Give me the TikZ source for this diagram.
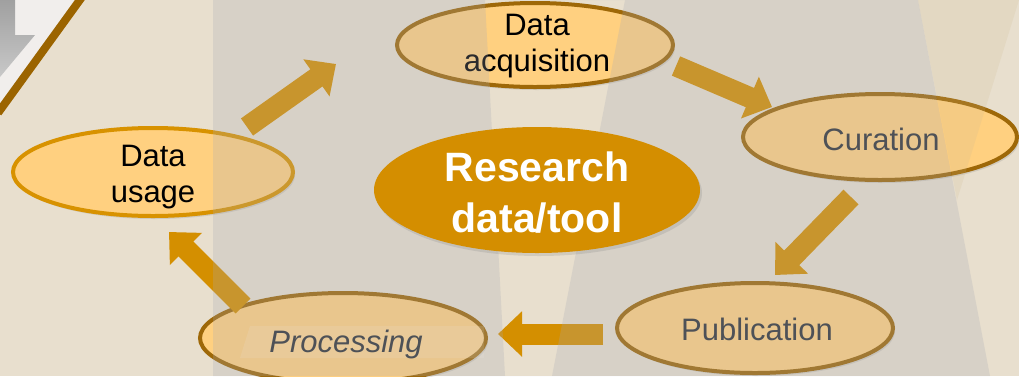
\documentclass[tikz,border=0pt]{standalone}
\usepackage{fontspec}
\setmainfont{Liberation Sans}
\usetikzlibrary{shapes.geometric,arrows.meta,shadows}
\definecolor{bgbeige}{RGB}{232,223,206}
\definecolor{paleleft}{RGB}{241,238,236}
\definecolor{brownline}{RGB}{155,100,0}
\definecolor{stagefill}{RGB}{255,208,128}
\definecolor{stagebrown}{RGB}{158,104,8}
\definecolor{stageorange}{RGB}{216,146,0}
\definecolor{arroworange}{RGB}{212,143,0}
\definecolor{centerorange}{RGB}{212,142,0}
\definecolor{overlaygrey}{RGB}{168,170,180}
\definecolor{tanbeam}{RGB}{205,185,145}
\definecolor{textgrey}{RGB}{48,52,56}
\definecolor{arrowgreyA}{RGB}{160,160,160}
\definecolor{arrowgreyB}{RGB}{200,200,200}
\begin{document}
\begin{tikzpicture}[x=1pt,y=-1pt,
  stage/.style={ellipse, draw=stagebrown, line width=4pt, fill=stagefill, inner sep=0pt,
    drop shadow={opacity=0.22, shadow xshift=2pt, shadow yshift=-3pt}},
  stagetext/.style={inner sep=0pt, align=center, font=\fontsize{31}{36}\selectfont},
  blockarrow/.style={line width=21pt, draw=arroworange, -{Triangle[length=24pt,width=44pt]}},
]
\useasboundingbox (0,0) rectangle (1019,376);
\clip (0,0) rectangle (1019,376);
% background
\fill[bgbeige] (0,0) rectangle (1019,376);
% top-left decoration
\fill[paleleft] (0,0) -- (76,0) -- (0,106) -- cycle;
\shade[top color=arrowgreyA, bottom color=arrowgreyB] (0,0) -- (15,0) -- (15,35) -- (35,35) -- (0,77) -- cycle;
\draw[brownline, line width=8pt] (82,-3) -- (-2,113);
% stages
\node[stage, draw=stagebrown, minimum width=276pt, minimum height=84pt] (acq) at (535,45) {};
\node[stage, minimum width=274pt, minimum height=86pt] (cur) at (880,137) {};
\node[stage, minimum width=276pt, minimum height=90pt] (pub) at (755,328) {};
\node[stage, minimum width=286pt, minimum height=90pt] (proc) at (343,338) {};
\node[stage, draw=stageorange, minimum width=280pt, minimum height=88pt] (use) at (153,172) {};
% light band in Processing
\fill[white, opacity=0.14] (250,326) -- (484,326) -- (484,358) -- (240,358) -- cycle;
% texts
\node[stagetext] (acqt) at (537,46) {Data\\acquisition};
\node[stagetext, text=textgrey] (curt) at (881,139) {Curation};
\node[stagetext, text=textgrey] (pubt) at (757,329) {Publication};
\node[stagetext, text=textgrey, font=\fontsize{31}{36}\selectfont\itshape] (proct) at (346,344) {Processing};
\node[stagetext] (uset) at (153,177) {Data\\usage};
% arrow end points
\coordinate (a1t) at (247,127); \coordinate (a1h) at (336,64);
\coordinate (a2t) at (676,66);  \coordinate (a2h) at (772,107);
\coordinate (a3t) at (851,197); \coordinate (a3h) at (775,275);
\coordinate (a4t) at (603,334); \coordinate (a4h) at (498,334);
\coordinate (a5t) at (243,306); \coordinate (a5h) at (169,232);
\draw[blockarrow] (a1t) -- (a1h);
\draw[blockarrow] (a2t) -- (a2h);
\draw[blockarrow] (a3t) -- (a3h);
\draw[blockarrow] (a4t) -- (a4h);
\draw[blockarrow] (a5t) -- (a5h);
% grey beam overlay with light wedge
\fill[overlaygrey, fill opacity=0.25, even odd rule]
  (213,0) -- (918,0) -- (990,376) -- (213,376) -- cycle
  (485,0) -- (625,0) -- (552,376) -- (505,376) -- cycle;
\fill[tanbeam, fill opacity=0.18] (918,0) -- (1019,0) -- (957,200) -- cycle;
% centre
\node[ellipse, fill=centerorange, inner sep=0pt, minimum width=326pt, minimum height=126pt,
  drop shadow={opacity=0.22, shadow xshift=2pt, shadow yshift=-3pt}] (res) at (537,190) {};
\node[inner sep=0pt, align=center, text=white, font=\fontsize{41}{51}\selectfont\bfseries] (rest) at (537,193) {Research\\data/tool};
\end{tikzpicture}
\end{document}
